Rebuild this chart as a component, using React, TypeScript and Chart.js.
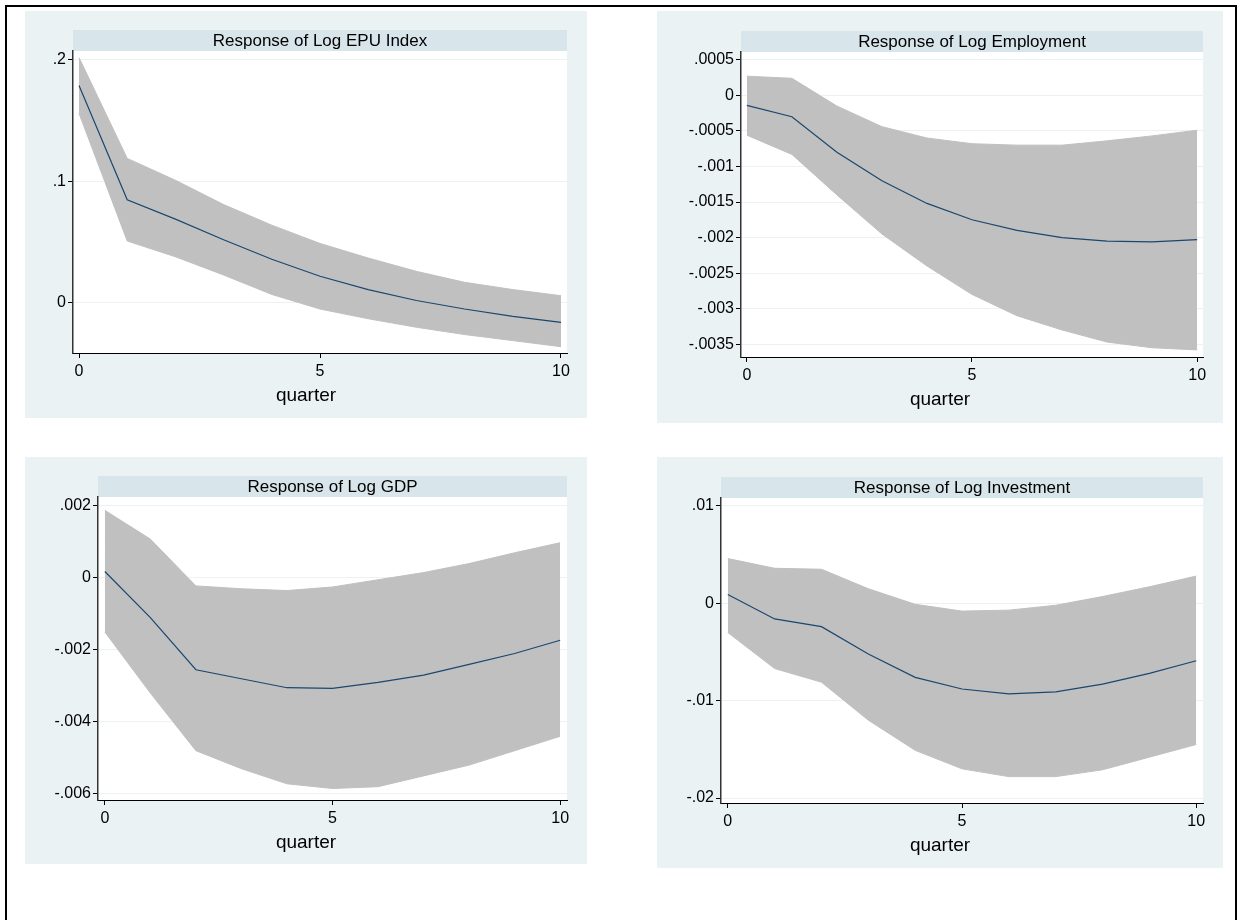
import React, { useEffect, useRef } from "react";
import { Chart, registerables } from "chart.js";

Chart.register(...registerables);

// ---------- data ----------
const quarters = [0, 1, 2, 3, 4, 5, 6, 7, 8, 9, 10];

const epuIrf = [0.179, 0.085, 0.069, 0.052, 0.036, 0.022, 0.011, 0.002, -0.005, -0.011, -0.016];
const epuUpper = [0.202, 0.119, 0.101, 0.081, 0.064, 0.049, 0.037, 0.026, 0.017, 0.011, 0.006];
const epuLower = [0.156, 0.051, 0.038, 0.023, 0.007, -0.005, -0.013, -0.02, -0.026, -0.031, -0.036];

const empIrf = [-0.00014, -0.0003, -0.0008, -0.0012, -0.00152, -0.00175, -0.0019, -0.002, -0.00205, -0.00206, -0.00203];
const empUpper = [0.00027, 0.00024, -0.00015, -0.00044, -0.0006, -0.00068, -0.0007, -0.0007, -0.00064, -0.00057, -0.00049];
const empLower = [-0.00056, -0.00083, -0.0014, -0.00195, -0.0024, -0.0028, -0.0031, -0.0033, -0.00347, -0.00355, -0.00358];

const gdpIrf = [0.00018, -0.0011, -0.00255, -0.0028, -0.00305, -0.00307, -0.0029, -0.0027, -0.0024, -0.0021, -0.00173];
const gdpUpper = [0.00188, 0.00108, -0.00022, -0.0003, -0.00035, -0.00025, -0.00005, 0.00015, 0.0004, 0.0007, 0.00098];
const gdpLower = [-0.0015, -0.0032, -0.0048, -0.0053, -0.00572, -0.00585, -0.0058, -0.0055, -0.0052, -0.0048, -0.0044];

const invIrf = [0.0009, -0.0016, -0.0024, -0.0052, -0.0076, -0.0088, -0.0093, -0.0091, -0.0083, -0.0072, -0.0059];
const invUpper = [0.0046, 0.0036, 0.0035, 0.0015, -0.0001, -0.0008, -0.0007, -0.0002, 0.0007, 0.0017, 0.0028];
const invLower = [-0.003, -0.0067, -0.0081, -0.012, -0.0151, -0.017, -0.0178, -0.0178, -0.0171, -0.0158, -0.0145];

const epuTicks = [0, 0.1, 0.2];
const epuTickLabels = ["0", ".1", ".2"];
const empTicks = [0.0005, 0, -0.0005, -0.001, -0.0015, -0.002, -0.0025, -0.003, -0.0035];
const empTickLabels = [".0005", "0", "-.0005", "-.001", "-.0015", "-.002", "-.0025", "-.003", "-.0035"];
const gdpTicks = [0.002, 0, -0.002, -0.004, -0.006];
const gdpTickLabels = [".002", "0", "-.002", "-.004", "-.006"];
const invTicks = [0.01, 0, -0.01, -0.02];
const invTickLabels = [".01", "0", "-.01", "-.02"];

const xTicks = [0, 5, 10];
const xTickLabels = ["0", "5", "10"];

const xAxisTitle = "quarter";
const panelTitles = [
  "Response of Log EPU Index",
  "Response of Log Employment",
  "Response of Log GDP",
  "Response of Log Investment",
];

// ---------- style ----------
const FONT = '"Liberation Sans", Arial, Helvetica, sans-serif';
const PANEL_BG = "#EAF2F3";
const STRIP_BG = "#D8E5EA";
const BAND = "#C0C0C0";
const NAVY = "#1A476F";

const decorPlugin = {
  id: "panelDecor",
  beforeDraw(chart: any, _args: any, opts: any) {
    const { ctx, chartArea: a, width, height } = chart;
    ctx.save();
    ctx.fillStyle = PANEL_BG;
    ctx.fillRect(0, 0, width, height);
    ctx.fillStyle = "#FFFFFF";
    ctx.fillRect(a.left, a.top, a.right - a.left, a.bottom - a.top);
    ctx.fillStyle = STRIP_BG;
    ctx.fillRect(a.left, a.top - 21, a.right - a.left, 21);
    ctx.fillStyle = "#000";
    ctx.textAlign = "center";
    ctx.textBaseline = "middle";
    ctx.font = `17px ${FONT}`;
    ctx.fillText(opts.title, (a.left + a.right) / 2, a.top - 10);
    ctx.font = `19px ${FONT}`;
    ctx.fillText(opts.xTitle, width / 2, a.bottom + 43);
    ctx.restore();
  },
};

type PanelProps = {
  title: string;
  irf: number[];
  upper: number[];
  lower: number[];
  yTicks: number[];
  yLabels: string[];
  yMin: number;
  yMax: number;
  xMin: number;
  xMax: number;
  left: number;
  top: number;
  width: number;
  height: number;
  yAxisWidth: number;
  padTop: number;
  padRight: number;
  xAxisHeight: number;
};

function Panel(p: PanelProps) {
  const ref = useRef<HTMLCanvasElement | null>(null);
  useEffect(() => {
    if (!ref.current) return;
    const pts = (arr: number[]) => quarters.map((q, i) => ({ x: q, y: arr[i] }));
    const chart = new Chart(ref.current, {
      type: "line",
      data: {
        datasets: [
          {
            data: pts(p.irf),
            borderColor: NAVY,
            borderWidth: 1.2,
            pointRadius: 0,
            fill: false,
            tension: 0,
          },
          {
            data: pts(p.upper),
            borderColor: BAND,
            borderWidth: 1,
            backgroundColor: BAND,
            pointRadius: 0,
            fill: "+1",
            tension: 0,
          },
          {
            data: pts(p.lower),
            borderColor: BAND,
            borderWidth: 1,
            pointRadius: 0,
            fill: false,
            tension: 0,
          },
        ],
      },
      options: {
        responsive: false,
        animation: false,
        events: [],
        layout: { padding: { top: p.padTop, right: p.padRight, left: 0, bottom: 0 } },
        plugins: {
          legend: { display: false },
          tooltip: { enabled: false },
          title: { display: false },
          panelDecor: { title: p.title, xTitle: xAxisTitle },
        } as any,
        scales: {
          x: {
            type: "linear",
            min: p.xMin,
            max: p.xMax,
            afterBuildTicks: (s: any) => {
              s.ticks = xTicks.map((v) => ({ value: v }));
            },
            afterFit: (s: any) => {
              s.height = p.xAxisHeight;
            },
            grid: {
              drawOnChartArea: false,
              drawTicks: true,
              tickLength: 5,
              tickColor: "#000",
              tickWidth: 1,
            },
            border: { display: true, color: "#000", width: 1 },
            ticks: {
              color: "#000",
              font: { family: FONT, size: 16 },
              padding: 4,
              maxRotation: 0,
              autoSkip: false,
              callback: (v: any) => {
                const i = xTicks.indexOf(Number(v));
                return i >= 0 ? xTickLabels[i] : "";
              },
            },
          },
          y: {
            type: "linear",
            min: p.yMin,
            max: p.yMax,
            afterBuildTicks: (s: any) => {
              s.ticks = p.yTicks.map((v) => ({ value: v }));
            },
            afterFit: (s: any) => {
              s.width = p.yAxisWidth;
            },
            grid: {
              color: PANEL_BG,
              lineWidth: 1,
              drawTicks: true,
              tickLength: 5,
              tickColor: "#000",
              tickWidth: 1,
            },
            border: { display: true, color: "#333", width: 1.5 },
            ticks: {
              color: "#000",
              font: { family: FONT, size: 16 },
              padding: 2,
              autoSkip: false,
              callback: (v: any) => {
                const i = p.yTicks.findIndex((t) => Math.abs(t - Number(v)) < 1e-12);
                return i >= 0 ? p.yLabels[i] : "";
              },
            },
          },
        },
      },
      plugins: [decorPlugin as any],
    });
    return () => chart.destroy();
  }, []);
  return (
    <canvas
      ref={ref}
      width={p.width}
      height={p.height}
      style={{ position: "absolute", left: p.left, top: p.top, width: p.width, height: p.height }}
    />
  );
}

export default function App() {
  return (
    <div
      style={{
        position: "absolute",
        left: 0,
        top: 0,
        width: 1243,
        height: 920,
        background: "#fff",
        overflow: "hidden",
      }}
    >
      <div
        style={{
          position: "absolute",
          left: 5,
          top: 5,
          width: 1232,
          height: 940,
          boxSizing: "border-box",
          border: "2px solid #000",
        }}
      />
      <Panel
        title={panelTitles[0]}
        irf={epuIrf}
        upper={epuUpper}
        lower={epuLower}
        yTicks={epuTicks}
        yLabels={epuTickLabels}
        yMin={-0.0412}
        yMax={0.2074}
        xMin={-0.125}
        xMax={10.125}
        left={25}
        top={11}
        width={562}
        height={407}
        yAxisWidth={48}
        padTop={40}
        padRight={20}
        xAxisHeight={65}
      />
      <Panel
        title={panelTitles[1]}
        irf={empIrf}
        upper={empUpper}
        lower={empLower}
        yTicks={empTicks}
        yLabels={empTickLabels}
        yMin={-0.00368}
        yMax={0.00061}
        xMin={-0.13}
        xMax={10.13}
        left={657}
        top={11}
        width={566}
        height={412}
        yAxisWidth={84}
        padTop={41}
        padRight={20}
        xAxisHeight={66}
      />
      <Panel
        title={panelTitles[2]}
        irf={gdpIrf}
        upper={gdpUpper}
        lower={gdpLower}
        yTicks={gdpTicks}
        yLabels={gdpTickLabels}
        yMin={-0.00617}
        yMax={0.00225}
        xMin={-0.15}
        xMax={10.15}
        left={25}
        top={457}
        width={562}
        height={407}
        yAxisWidth={73}
        padTop={40}
        padRight={20}
        xAxisHeight={64}
      />
      <Panel
        title={panelTitles[3]}
        irf={invIrf}
        upper={invUpper}
        lower={invLower}
        yTicks={invTicks}
        yLabels={invTickLabels}
        yMin={-0.02051}
        yMax={0.01082}
        xMin={-0.145}
        xMax={10.145}
        left={657}
        top={457}
        width={566}
        height={411}
        yAxisWidth={64}
        padTop={41}
        padRight={20}
        xAxisHeight={65}
      />
    </div>
  );
}
